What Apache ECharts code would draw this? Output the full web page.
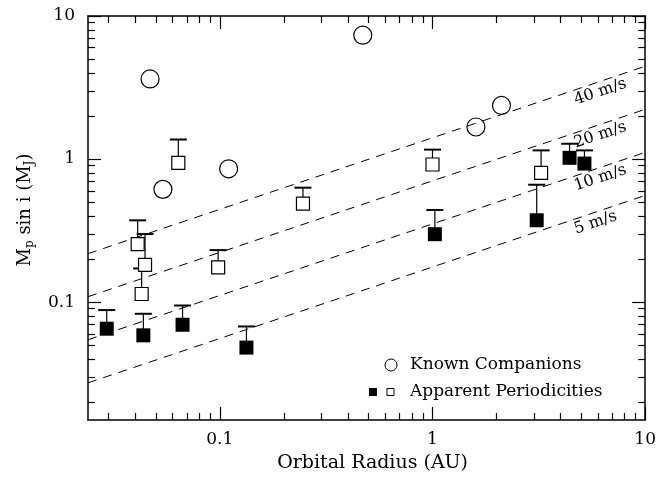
<!DOCTYPE html>
<html>
<head>
<meta charset="utf-8">
<script src="https://cdn.jsdelivr.net/npm/echarts@6/dist/echarts.min.js"></script>
<style>
  html, body { margin: 0; padding: 0; background: #fff; }
  #chart { width: 659px; height: 478px; }
</style>
</head>
<body>
<div id="chart"></div>
<script>
// Axis ranges (AU, Jupiter masses) and labelled decades
const xRange = [0.024, 10];
const yRange = [0.015, 10];
const xTickValues = [0.1, 1, 10];
const xTickLabels = ['0.1', '1', '10'];
const yTickValues = [0.1, 1, 10];
const yTickLabels = ['0.1', '1', '10'];

// Known companions (open circles)
const knownRadius = [0.047, 0.054, 0.110, 0.47, 1.60, 2.11];
const knownMass   = [3.63, 0.614, 0.855, 7.34, 1.675, 2.37];

// Apparent periodicities, open squares, with upper limits
const openRadius = [0.0411, 0.0429, 0.0445, 0.0638, 0.0982, 0.246, 1.00, 3.24];
const openMass   = [0.254, 0.114, 0.182, 0.94, 0.175, 0.488, 0.916, 0.80];
const openUpper  = [0.373, 0.172, 0.299, 1.37, 0.231, 0.631, 1.164, 1.15];

// Apparent periodicities, filled squares, with upper limits
const filledRadius = [0.0294, 0.0437, 0.0668, 0.1334, 1.026, 3.09, 4.41, 5.18];
const filledMass   = [0.0652, 0.0586, 0.0695, 0.0481, 0.2985, 0.3735, 1.02, 0.93];
const filledUpper  = [0.088, 0.0829, 0.0947, 0.0676, 0.4405, 0.6616, 1.28, 1.15];

// Velocity semi-amplitude contours
const rvSpeeds = [5, 10, 20, 40];
const rvLabels = ['5 m/s', '10 m/s', '20 m/s', '40 m/s'];
const K_JUP_1AU = 28.4; // m/s induced by 1 M_J at 1 AU around a solar-mass star
const rvLabelRadius = 4.5; // AU where each contour label starts

const FONT = '"DejaVu Serif", "Liberation Serif", serif';
const INK = '#000';
const lg = Math.log10;

function minorTicks(lo, hi) {
  const out = [];
  for (let e = Math.floor(lg(lo)); e <= Math.ceil(lg(hi)); e++) {
    for (let k = 2; k <= 9; k++) {
      const v = k * Math.pow(10, e);
      if (v >= lo && v <= hi) out.push(lg(v));
    }
  }
  return out;
}
function rvMass(speed, a) { return speed / K_JUP_1AU * Math.sqrt(a); }

function makeAxis(range, position, ticks, len, opts) {
  opts = opts || {};
  return Object.assign({
    type: 'value',
    position: position,
    min: lg(range[0]),
    max: lg(range[1]),
    splitLine: { show: false },
    axisLine: { show: !!opts.line, onZero: false, lineStyle: { color: INK, width: 1.5 } },
    axisTick: { show: true, inside: true, length: len, customValues: ticks,
                lineStyle: { color: INK, width: 1.2 } },
    axisLabel: { show: false }
  }, opts.extra || {});
}

const xMajor = xTickValues.map(lg);
const yMajor = yTickValues.map(lg);
const labelOf = (vals, labels) => v => {
  const i = vals.findIndex(t => Math.abs(lg(t) - v) < 1e-6);
  return i >= 0 ? labels[i] : '';
};

const xAxes = [
  makeAxis(xRange, 'bottom', xMajor, 13, { line: true, extra: {
    axisLabel: { show: true, customValues: xMajor, margin: 11,
                 formatter: labelOf(xTickValues, xTickLabels),
                 fontFamily: FONT, fontSize: 17, color: INK },
    name: 'Orbital Radius (AU)', nameLocation: 'middle', nameGap: 34,
    nameTextStyle: { fontFamily: FONT, fontSize: 19, color: INK, padding: [0, 0, 0, 12] }
  } }),
  makeAxis(xRange, 'bottom', minorTicks(xRange[0], xRange[1]), 7),
  makeAxis(xRange, 'top', xMajor, 13, { line: true }),
  makeAxis(xRange, 'top', minorTicks(xRange[0], xRange[1]), 7)
];
const yAxes = [
  makeAxis(yRange, 'left', yMajor, 13, { line: true, extra: {
    axisLabel: { show: true, customValues: yMajor, margin: 13,
                 formatter: labelOf(yTickValues, yTickLabels),
                 fontFamily: FONT, fontSize: 17, color: INK },
    name: '{m|M}{s|p}{m| sin i (M}{s|J}{m|)}', nameLocation: 'middle', nameGap: 52,
    nameRotate: 90,
    nameTextStyle: { fontFamily: FONT, color: INK, padding: [0, 0, 0, 16],
      rich: {
        m: { fontFamily: FONT, fontSize: 18, color: INK, lineHeight: 22 },
        s: { fontFamily: FONT, fontSize: 12, color: INK, lineHeight: 22, verticalAlign: 'bottom', padding: [8, 0, 0, 0] }
      } }
  } }),
  makeAxis(yRange, 'left', minorTicks(yRange[0], yRange[1]), 7),
  makeAxis(yRange, 'right', yMajor, 13, { line: true }),
  makeAxis(yRange, 'right', minorTicks(yRange[0], yRange[1]), 7)
];

const rvSeries = rvSpeeds.map(k => ({
  type: 'line',
  xAxisIndex: 0, yAxisIndex: 0,
  data: xRange.map(a => [lg(a), lg(rvMass(k, a))]),
  showSymbol: false, symbol: 'none',
  lineStyle: { color: INK, width: 1, type: [9, 7] },
  silent: true, z: 1
}));

function errorBars(radius, mass, upper) {
  return {
    type: 'custom', xAxisIndex: 0, yAxisIndex: 0, silent: true, z: 3,
    data: radius.map((r, i) => [lg(r), lg(mass[i]), lg(upper[i])]),
    renderItem: (params, api) => {
      const p = api.coord([api.value(0), api.value(1)]);
      const q = api.coord([api.value(0), api.value(2)]);
      return { type: 'group', children: [
        { type: 'line', shape: { x1: p[0], y1: p[1], x2: q[0], y2: q[1] },
          style: { stroke: INK, lineWidth: 1.2 } },
        { type: 'line', shape: { x1: q[0] - 8.5, y1: q[1], x2: q[0] + 8.5, y2: q[1] },
          style: { stroke: INK, lineWidth: 2 } }
      ] };
    }
  };
}

const pts = (xs, ys) => xs.map((x, i) => [lg(x), lg(ys[i])]);

const series = rvSeries.concat([
  errorBars(openRadius, openMass, openUpper),
  errorBars(filledRadius, filledMass, filledUpper),
  {
    type: 'scatter', xAxisIndex: 0, yAxisIndex: 0, z: 4, silent: true,
    data: pts(openRadius, openMass), symbol: 'rect', symbolSize: 13,
    itemStyle: { color: '#fff', borderColor: INK, borderWidth: 1.2, opacity: 1 }
  },
  {
    type: 'scatter', xAxisIndex: 0, yAxisIndex: 0, z: 4, silent: true,
    data: pts(filledRadius, filledMass), symbol: 'rect', symbolSize: 14,
    itemStyle: { color: INK, opacity: 1 }
  },
  {
    type: 'scatter', xAxisIndex: 0, yAxisIndex: 0, z: 4, silent: true,
    data: pts(knownRadius, knownMass), symbol: 'circle', symbolSize: 18,
    itemStyle: { color: 'rgba(0,0,0,0)', borderColor: INK, borderWidth: 1.2, opacity: 1 }
  }
]);

const chart = echarts.init(document.getElementById('chart'), null, { renderer: 'canvas' });
chart.setOption({
  animation: false,
  backgroundColor: '#fff',
  grid: { left: 88, top: 16, width: 559, height: 405, containLabel: false },
  xAxis: xAxes,
  yAxis: yAxes,
  series: series
});

// Contour labels laid along each dashed line, plus the key
const graphics = [];
rvSpeeds.forEach((k, i) => {
  const a0 = rvLabelRadius, a1 = a0 * 2;
  const p0 = chart.convertToPixel({ xAxisIndex: 0, yAxisIndex: 0 }, [lg(a0), lg(rvMass(k, a0))]);
  const p1 = chart.convertToPixel({ xAxisIndex: 0, yAxisIndex: 0 }, [lg(a1), lg(rvMass(k, a1))]);
  const ang = Math.atan2(p0[1] - p1[1], p1[0] - p0[0]);
  const off = 2;
  graphics.push({
    type: 'text',
    x: p0[0] + Math.sin(ang) * off,
    y: p0[1] + Math.cos(ang) * off,
    rotation: ang,
    z: 5,
    style: { text: rvLabels[i], font: '16px ' + FONT, fill: INK,
             textAlign: 'left', textVerticalAlign: 'top' }
  });
});

graphics.push(
  { type: 'circle', shape: { cx: 391, cy: 365, r: 6 }, style: { fill: 'none', stroke: INK, lineWidth: 1 }, z: 5 },
  { type: 'text', x: 410, y: 365, style: { text: 'Known Companions', font: '17px ' + FONT, fill: INK, textVerticalAlign: 'middle' }, z: 5 },
  { type: 'rect', shape: { x: 369, y: 388, width: 8, height: 8 }, style: { fill: INK }, z: 5 },
  { type: 'rect', shape: { x: 387, y: 388.5, width: 7, height: 7 }, style: { fill: 'none', stroke: INK, lineWidth: 1 }, z: 5 },
  { type: 'text', x: 410, y: 392, style: { text: 'Apparent Periodicities', font: '17px ' + FONT, fill: INK, textVerticalAlign: 'middle' }, z: 5 }
);
chart.setOption({ graphic: graphics });
</script>
</body>
</html>
